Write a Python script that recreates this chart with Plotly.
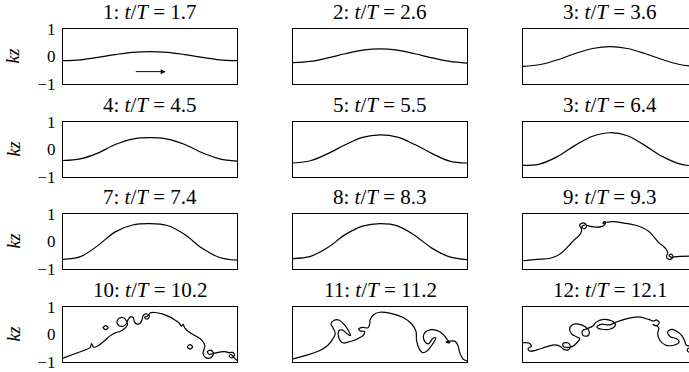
import plotly.graph_objects as go

# panel titles
titles = [
    "1: <i>t</i>/<i>T</i> = 1.7", "2: <i>t</i>/<i>T</i> = 2.6", "3: <i>t</i>/<i>T</i> = 3.6",
    "4: <i>t</i>/<i>T</i> = 4.5", "5: <i>t</i>/<i>T</i> = 5.5", "3: <i>t</i>/<i>T</i> = 6.4",
    "7: <i>t</i>/<i>T</i> = 7.4", "8: <i>t</i>/<i>T</i> = 8.3", "9: <i>t</i>/<i>T</i> = 9.3",
    "10: <i>t</i>/<i>T</i> = 10.2", "11: <i>t</i>/<i>T</i> = 11.2", "12: <i>t</i>/<i>T</i> = 12.1",
]
kz_ticks = [-1, 0, 1]
kz_ticktext = ["\u22121", "0", "1"]

# smooth profiles, x as fraction of the box width
wave_x = [0.0, 0.1, 0.2, 0.3, 0.4, 0.5, 0.6, 0.7, 0.8, 0.9, 1.0]
kz_1 = [-0.15, -0.12, -0.03, 0.07, 0.15, 0.18, 0.15, 0.07, -0.03, -0.12, -0.15]
kz_2 = [-0.22, -0.18, -0.05, 0.10, 0.23, 0.28, 0.23, 0.10, -0.05, -0.18, -0.24]
kz_3 = [-0.36, -0.29, -0.12, 0.11, 0.29, 0.36, 0.29, 0.11, -0.11, -0.29, -0.37]
kz_4 = [-0.40, -0.34, -0.13, 0.18, 0.38, 0.43, 0.38, 0.18, -0.12, -0.34, -0.42]
kz_5 = [-0.49, -0.41, -0.15, 0.17, 0.44, 0.53, 0.45, 0.18, -0.15, -0.42, -0.49]
kz_6 = [-0.58, -0.52, -0.25, 0.15, 0.48, 0.61, 0.50, 0.15, -0.25, -0.52, -0.61]
kz_7 = [-0.65, -0.55, -0.15, 0.35, 0.60, 0.65, 0.58, 0.25, -0.25, -0.58, -0.68]
kz_8 = [-0.62, -0.54, -0.22, 0.25, 0.56, 0.65, 0.57, 0.22, -0.25, -0.56, -0.66]

# broken profiles (traced)
x_9 = [0.00, 0.08, 0.157, 0.215, 0.262, 0.295, 0.322, 0.335, 0.335, 0.325, 0.335, 0.355, 0.365,
       0.355, 0.34, 0.345, 0.36, 0.38, 0.42, 0.455, 0.47, 0.475, 0.465, 0.46, 0.48, 0.52, 0.58,
       0.636, 0.684, 0.722, 0.751, 0.78, 0.808, 0.825, 0.832, 0.825, 0.83, 0.85, 0.862, 0.852,
       0.84, 0.85, 0.87, 0.90, 0.96, 1.0]
kz_9 = [-0.70, -0.65, -0.61, -0.45, -0.16, 0.06, 0.21, 0.35, 0.48, 0.58, 0.66, 0.66, 0.56,
        0.47, 0.50, 0.58, 0.60, 0.56, 0.52, 0.55, 0.62, 0.70, 0.72, 0.66, 0.70, 0.72, 0.67,
        0.61, 0.51, 0.37, 0.18, -0.04, -0.18, -0.30, -0.42, -0.52, -0.62, -0.64, -0.55, -0.46,
        -0.50, -0.57, -0.56, -0.54, -0.53, -0.53]

x_10 = [0.00, 0.06, 0.12, 0.155, 0.165, 0.175, 0.20, 0.24, 0.27, 0.30, 0.33, 0.355, 0.37, 0.365,
        0.35, 0.325, 0.31, 0.32, 0.345, 0.365, 0.375, 0.39, 0.405, 0.41, 0.425, 0.445, 0.455,
        0.46, 0.475, 0.495, 0.49, 0.475, 0.47, 0.485, 0.50, 0.53, 0.57, 0.61, 0.645, 0.67, 0.68,
        0.69, 0.70, 0.73, 0.77, 0.80, 0.815, 0.81, 0.805, 0.82, 0.85, 0.865, 0.85, 0.83, 0.84,
        0.87, 0.90, 0.93, 0.955, 0.975, 0.985, 0.97, 0.955, 0.965, 0.98, 1.0]
kz_10 = [-0.86, -0.72, -0.58, -0.48, -0.33, -0.46, -0.42, -0.22, -0.05, 0.06, 0.12, 0.22, 0.35,
         0.48, 0.60, 0.60, 0.47, 0.33, 0.30, 0.40, 0.55, 0.65, 0.60, 0.47, 0.38, 0.42, 0.55,
         0.68, 0.75, 0.70, 0.58, 0.57, 0.64, 0.66, 0.78, 0.80, 0.75, 0.65, 0.52, 0.40, 0.30,
         0.37, 0.24, 0.06, -0.08, -0.22, -0.40, -0.55, -0.70, -0.84, -0.84, -0.70, -0.57, -0.62,
         -0.72, -0.68, -0.64, -0.62, -0.66, -0.65, -0.75, -0.85, -0.78, -0.72, -0.82, -0.95]
drop_10a_x = [0.23, 0.245, 0.26, 0.245, 0.23]
drop_10a_kz = [0.25, 0.32, 0.25, 0.18, 0.25]
drop_10b_x = [0.715, 0.73, 0.745, 0.73, 0.715]
drop_10b_kz = [-0.45, -0.37, -0.45, -0.53, -0.45]

x_11 = [0.0, 0.073, 0.151, 0.199, 0.228, 0.243, 0.228, 0.218, 0.237, 0.266, 0.295, 0.32, 0.33,
        0.309, 0.282, 0.263, 0.261, 0.27, 0.29, 0.32, 0.353, 0.382, 0.405, 0.411, 0.386, 0.378,
        0.402, 0.43, 0.44, 0.444, 0.463, 0.498, 0.556, 0.633, 0.681, 0.707, 0.71, 0.726, 0.745,
        0.772, 0.797, 0.82, 0.803, 0.778, 0.759, 0.749, 0.759, 0.788, 0.826, 0.861, 0.884, 0.9,
        0.88, 0.903, 0.932, 0.948, 0.958, 0.977, 1.0]
kz_11 = [-0.89, -0.76, -0.59, -0.40, -0.17, 0.04, 0.26, 0.39, 0.52, 0.52, 0.36, 0.13, -0.04,
         0.04, 0.17, 0.13, -0.04, -0.21, -0.31, -0.27, -0.21, -0.12, -0.02, 0.11, 0.13, 0.21,
         0.26, 0.24, 0.36, 0.55, 0.72, 0.81, 0.78, 0.62, 0.39, 0.11, -0.21, -0.53, -0.66,
         -0.59, -0.40, -0.12, -0.15, -0.34, -0.27, -0.08, 0.08, 0.17, 0.15, 0.02, -0.17, -0.30,
         -0.27, -0.24, -0.25, -0.40, -0.66, -0.89, -0.96]

x_12 = [0.0, 0.033, 0.048, 0.029, 0.038, 0.08, 0.138, 0.186, 0.215, 0.234, 0.262, 0.272, 0.257,
        0.23, 0.234, 0.282, 0.31, 0.326, 0.306, 0.282, 0.268, 0.282, 0.32, 0.358, 0.381, 0.372,
        0.345, 0.341, 0.368, 0.402, 0.421, 0.464, 0.511, 0.531, 0.506, 0.454, 0.425, 0.448,
        0.498, 0.536, 0.598, 0.665, 0.722, 0.751, 0.766, 0.783, 0.766, 0.747, 0.78, 0.774,
        0.785, 0.818, 0.866, 0.898, 0.881, 0.847, 0.831, 0.856, 0.889, 0.914, 0.929, 0.939,
        0.971, 1.0]
kz_12 = [-0.30, -0.31, -0.42, -0.52, -0.60, -0.56, -0.44, -0.38, -0.44, -0.54, -0.55, -0.42, -0.30,
         -0.33, -0.45, -0.44, -0.30, -0.15, -0.08, 0.01, 0.19, 0.35, 0.38, 0.28, 0.10, -0.05,
         -0.03, 0.13, 0.21, 0.31, 0.45, 0.55, 0.49, 0.35, 0.21, 0.19, 0.27, 0.37,
         0.35, 0.45, 0.58, 0.64, 0.55, 0.49, 0.53, 0.43, 0.31, 0.37, 0.25, 0.04,
         -0.20, -0.38, -0.39, -0.27, -0.15, -0.08, 0.09, 0.19, 0.09, -0.05, -0.24, -0.39,
         -0.42, -0.44]
tail_12_x = [0.97, 0.945, 0.95, 0.975, 1.0]
tail_12_kz = [-0.47, -0.53, -0.63, -0.66, -0.66]

smooth = [kz_1, kz_2, kz_3, kz_4, kz_5, kz_6, kz_7, kz_8]
broken = [
    [(x_9, kz_9)],
    [(x_10, kz_10), (drop_10a_x, drop_10a_kz), (drop_10b_x, drop_10b_kz)],
    [(x_11, kz_11)],
    [(x_12, kz_12), (tail_12_x, tail_12_kz)],
]

# layout in pixels
W, H = 689, 372
col_left = [63, 293, 523]
box_w = 174
row_top = [29, 122, 214, 307]
box_h = 55
font = "Liberation Serif, Times New Roman, Times, serif"

fig = go.Figure()
annotations = []

for i in range(12):
    r, c = divmod(i, 3)
    n = i + 1
    xa = "x" if n == 1 else "x%d" % n
    ya = "y" if n == 1 else "y%d" % n
    left = col_left[c]
    right = min(left + box_w, W)
    vis = (right - left) / box_w

    if i < 8:
        fig.add_trace(go.Scatter(x=wave_x, y=smooth[i], mode="lines",
                                 line=dict(color="black", width=1.2, shape="spline"),
                                 xaxis=xa, yaxis=ya, showlegend=False, hoverinfo="skip"))
    else:
        for px, pk in broken[i - 8]:
            fig.add_trace(go.Scatter(x=px, y=pk, mode="lines",
                                     line=dict(color="black", width=1.2, shape="spline", smoothing=1.0),
                                     xaxis=xa, yaxis=ya, showlegend=False, hoverinfo="skip"))

    xkey = "xaxis" if n == 1 else "xaxis%d" % n
    ykey = "yaxis" if n == 1 else "yaxis%d" % n
    fig.layout[xkey] = dict(domain=[left / W, right / W], range=[0, vis], anchor=ya,
                            automargin=False, showgrid=False, zeroline=False,
                            showticklabels=False, ticks="",
                            showline=True, linecolor="black", linewidth=1, mirror=True)
    fig.layout[ykey] = dict(domain=[1 - (row_top[r] + box_h) / H, 1 - row_top[r] / H],
                            range=[-1, 1], anchor=xa, automargin=False,
                            showgrid=False, zeroline=False,
                            tickvals=kz_ticks, ticktext=kz_ticktext, showticklabels=(c == 0),
                            ticks="", ticklabelstandoff=3, ticklabeloverflow="allow",
                            tickfont=dict(family=font, size=17, color="black"),
                            showline=True, linecolor="black", linewidth=1, mirror=(c < 2))

    annotations.append(dict(text=titles[i], xref="paper", yref="paper",
                            x=(left + box_w / 2) / W, y=1 - row_top[r] / H,
                            xanchor="center", yanchor="bottom", yshift=3, showarrow=False,
                            font=dict(family=font, size=21, color="black")))
    if c == 0:
        annotations.append(dict(text="<i>kz</i>", xref="paper", yref="paper",
                                x=13 / W, y=1 - (row_top[r] + box_h / 2) / H,
                                xanchor="center", yanchor="middle", textangle=-90,
                                showarrow=False, font=dict(family=font, size=18, color="black")))

# propagation arrow in panel 1
annotations.append(dict(x=0.59, y=-0.55, ax=0.41, ay=-0.55, xref="x", yref="y", axref="x", ayref="y",
                        text="", showarrow=True, arrowhead=2, arrowsize=1, arrowwidth=1,
                        arrowcolor="black"))

fig.update_layout(width=W, height=H, margin=dict(l=0, r=0, t=0, b=0, autoexpand=False),
                  paper_bgcolor="white", plot_bgcolor="white", annotations=annotations)

# the page body has a default margin; drop it so the figure fills the window
fig.write_html("out.html", config={"displayModeBar": False},
               post_script="document.body.style.margin = '0';")
